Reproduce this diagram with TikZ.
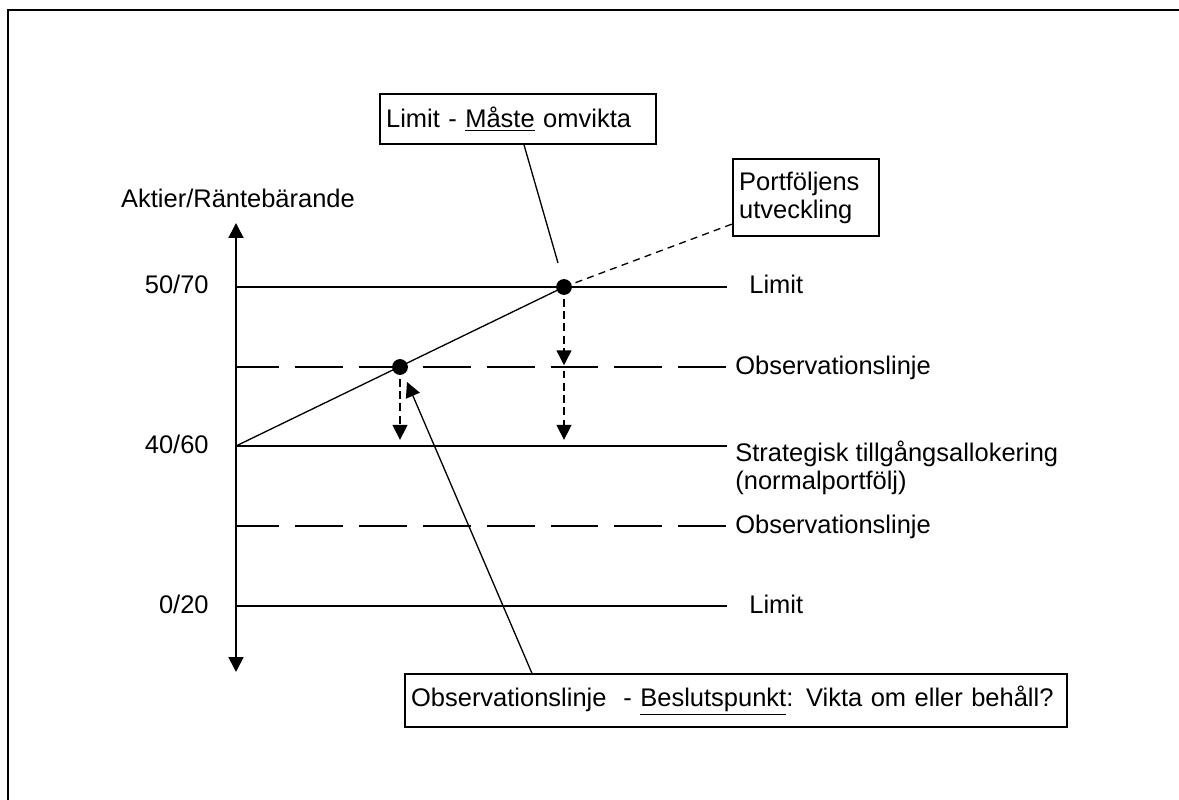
\documentclass[tikz,border=0pt]{standalone}
\usepackage{fontspec}
\setmainfont{Liberation Sans}
\usetikzlibrary{positioning, arrows.meta}
\tikzstyle{level} = [line width=1.25pt]
\tikzstyle{obsline} = [line width=1.25pt, dash pattern=on 27.3pt off 9.1pt, dash phase=3pt]
\tikzstyle{axis} = [line width=0.95pt, {Triangle[length=8.5pt,width=8.5pt]}-{Triangle[length=8.5pt,width=8.5pt]}]
\tikzstyle{lbl} = [inner sep=0pt, anchor=base west]
\tikzstyle{tick} = [inner sep=0pt, anchor=base east]
\tikzstyle{box} = [draw, line width=1.1pt, inner xsep=3.5pt, inner ysep=0pt, align=left]
\tikzstyle{dot} = [circle, fill, inner sep=0pt, minimum size=9pt]
\tikzstyle{move} = [line width=0.85pt, dash pattern=on 4.5pt off 2.5pt, -{Triangle[length=8.5pt,width=8.5pt]}]
\tikzstyle{pointer} = [line width=0.75pt, -{Triangle[length=8.5pt,width=8.5pt]}]

\begin{document}
\begin{tikzpicture}[x=0.02cm, y=-0.02cm, font=\fontsize{14.5}{16}\selectfont]
\useasboundingbox (0,0) rectangle (1179,800);
\draw[line width=1.1pt] (8,800) -- (8,10) -- (1179,10);

% axis
\coordinate (ytop) at (236,223);
\coordinate (ybot) at (236,672);
\draw[axis] (ybot) -- (ytop);
\node[inner sep=0pt, anchor=base] (ylab) at (238,208) {Aktier/Räntebärande};

% levels
\coordinate (lim1) at (236,287);  \coordinate (lim1e) at (727,287);
\coordinate (obs1) at (236,367);  \coordinate (obs1e) at (727,367);
\coordinate (sta)  at (236,446);  \coordinate (stae)  at (727,446);
\coordinate (obs2) at (236,526);  \coordinate (obs2e) at (727,526);
\coordinate (lim2) at (236,606);  \coordinate (lim2e) at (727,606);
\draw[level] (lim1) -- (lim1e);
\draw[obsline] (obs1) -- (obs1e);
\draw[level] (sta) -- (stae);
\draw[obsline] (obs2) -- (obs2e);
\draw[level] (lim2) -- (lim2e);

\node[tick] (t5070) at (209,294) {50/70};
\node[tick] (t4060) at (209,453) {40/60};
\node[tick] (t0020) at (209,613) {0/20};

\node[lbl] (llim1) at (749,294) {Limit};
\node[lbl] (lobs1) at (735,374) {Observationslinje};
\node[lbl] (lsta) at (735,461) {Strategisk tillgångsallokering};
\node[lbl] (lnorm) at (735,489) {(normalportfölj)};
\node[lbl] (lobs2) at (735,533) {Observationslinje};
\node[lbl] (llim2) at (749,613) {Limit};

% portfolio path
\node[dot] (p1) at (400,367) {};
\node[dot] (p2) at (564,287) {};
\draw[line width=0.75pt] (sta) -- (p2.center);

\node[box, anchor=north west, text width=150pt, minimum height=28.5pt] (omvikta) at (379,93) {Limit - \underline{Måste} omvikta};
\node[box, anchor=north west, text width=76pt, minimum height=44pt] (utv) at (732,158) {Portföljens\\utveckling};
\node[box, anchor=south west, text width=370pt, minimum height=30pt] (beslut) at (404,728) {Observationslinje\ \ - \underline{Beslutspunkt}: Vikta om eller behåll?};

\draw[line width=0.75pt, dash pattern=on 4pt off 3pt] (p2.center) -- ([yshift=7.5pt]utv.south west);
\draw[line width=0.75pt] ([xshift=3.5pt]omvikta.south) -- (558,263);
\draw[pointer] (beslut.north west) ++(128,0) -- (407,382);

% rebalancing
\draw[move] ([yshift=-2pt]p1.south) -- ([yshift=3.5pt]p1 |- sta);
\draw[move] ([yshift=-2pt]p2.south) -- ([yshift=1pt]p2 |- obs1);
\draw[move] ([yshift=-2pt]p2 |- obs1) -- ([yshift=3.5pt]p2 |- sta);
\end{tikzpicture}
\end{document}
